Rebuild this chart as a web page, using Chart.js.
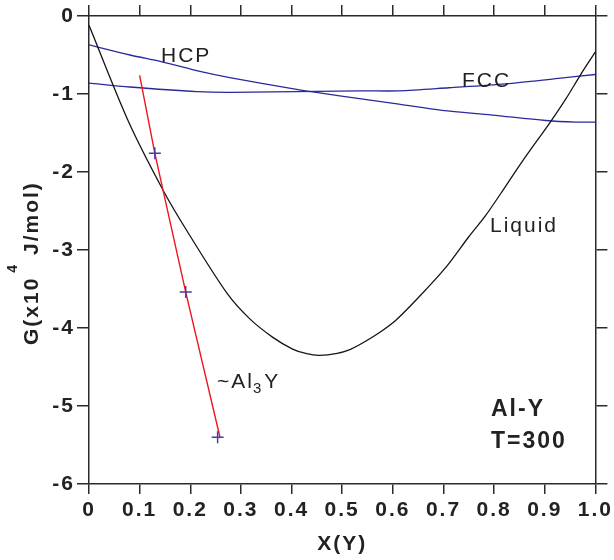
<!DOCTYPE html>
<html>
<head>
<meta charset="utf-8">
<script src="https://cdn.jsdelivr.net/npm/chart.js@4/dist/chart.umd.min.js"></script>
<style>
  html, body { margin: 0; padding: 0; background: #fff; }
  #wrap { width: 614px; height: 560px; }
</style>
</head>
<body>
<div id="wrap"><canvas id="gibbs-chart" width="614" height="560"></canvas></div>
<script>
// values (X = mole fraction Y, G in 10^4 J/mol)
const xTickLabels = ['0', '0.1', '0.2', '0.3', '0.4', '0.5', '0.6', '0.7', '0.8', '0.9', '1.0'];
const yTickLabels = ['0', '-1', '-2', '-3', '-4', '-5', '-6'];

const liquidX = [0, 0.077, 0.146, 0.193, 0.272, 0.317, 0.363, 0.402, 0.43, 0.455, 0.49, 0.514, 0.534, 0.573, 0.606, 0.652, 0.705, 0.75, 0.783, 0.823, 0.856, 0.911, 0.941, 0.97, 1.0];
const liquidG = [-0.12, -1.34, -2.23, -2.75, -3.55, -3.88, -4.12, -4.27, -4.33, -4.35, -4.325, -4.28, -4.215, -4.06, -3.9, -3.6, -3.22, -2.83, -2.56, -2.18, -1.86, -1.36, -1.07, -0.76, -0.46];

const hcpX = [0, 0.081, 0.146, 0.219, 0.278, 0.41, 0.449, 0.534, 0.612, 0.697, 0.796, 0.902, 0.961, 1.0];
const hcpG = [-0.37, -0.5, -0.59, -0.71, -0.79, -0.94, -0.98, -1.06, -1.13, -1.21, -1.27, -1.34, -1.36, -1.36];

const fccX = [0, 0.081, 0.213, 0.278, 0.534, 0.612, 0.711, 0.823, 0.927, 1.0];
const fccG = [-0.86, -0.91, -0.97, -0.98, -0.96, -0.96, -0.92, -0.87, -0.8, -0.75];

const al3yX = [0.1, 0.13, 0.191, 0.259];
const al3yG = [-0.76, -1.76, -3.54, -5.41];

const markX = [0.13, 0.191, 0.254];
const markG = [-1.76, -3.54, -5.4];

function pts(xs, ys) { return xs.map((x, i) => ({ x: x, y: ys[i] })); }

const axisColor = '#2a2a2a';
const FONT = '"Liberation Sans", Arial, sans-serif';

const textPlugin = {
  id: 'texts',
  beforeDraw(chart) {
    chart.ctx.letterSpacing = '2px';
  },
  afterDraw(chart) {
    const ctx = chart.ctx;
    ctx.save();
    ctx.letterSpacing = '2px';
    ctx.fillStyle = '#222';
    ctx.textBaseline = 'alphabetic';
    ctx.textAlign = 'left';

    ctx.font = '21px ' + FONT;
    ctx.fillText('HCP', 161, 62);
    ctx.fillText('FCC', 462, 87);
    ctx.fillText('Liquid', 490, 232);
    ctx.fillText('~Al', 217, 388);
    let w = ctx.measureText('~Al').width;
    ctx.font = '15px ' + FONT;
    ctx.fillText('3', 217 + w - 1, 393);
    let w3 = ctx.measureText('3').width;
    ctx.font = '21px ' + FONT;
    ctx.fillText('Y', 217 + w + w3, 388);

    ctx.font = 'bold 23px ' + FONT;
    ctx.fillText('Al-Y', 491, 416);
    ctx.fillText('T=300', 491, 448);

    // y axis title with superscript
    ctx.translate(33, 266);
    ctx.rotate(-Math.PI / 2);
    ctx.font = 'bold 21px ' + FONT;
    let u = -79;
    ctx.fillText('G(x10', u, 5);
    u += ctx.measureText('G(x10').width;
    ctx.font = 'bold 14px ' + FONT;
    ctx.fillText('4', u + 4, -16);
    u += ctx.measureText('4').width + 4;
    ctx.font = 'bold 21px ' + FONT;
    ctx.fillText(' J/mol)', u, 5);
    ctx.restore();
  }
};

new Chart(document.getElementById('gibbs-chart'), {
  type: 'scatter',
  data: {
    datasets: [
      { data: pts(markX, markG), showLine: false, pointStyle: 'cross', pointRadius: 6,
        borderColor: '#4a3aa8', borderWidth: 1.5 },
      { data: pts(al3yX, al3yG), showLine: true, pointRadius: 0, borderColor: '#f0141e',
        borderWidth: 1.4, tension: 0 },
      { data: pts(liquidX, liquidG), showLine: true, pointRadius: 0, borderColor: '#151515',
        borderWidth: 1.3, tension: 0.3 },
      { data: pts(hcpX, hcpG), showLine: true, pointRadius: 0, borderColor: '#2a2a9c',
        borderWidth: 1.3, tension: 0.3 },
      { data: pts(fccX, fccG), showLine: true, pointRadius: 0, borderColor: '#2a2a9c',
        borderWidth: 1.3, tension: 0.3 }
    ]
  },
  options: {
    responsive: false,
    animation: false,
    layout: { padding: 0 },
    plugins: { legend: { display: false }, tooltip: { enabled: false } },
    scales: {
      x: {
        type: 'linear', position: 'bottom', min: 0, max: 1,
        afterFit(s) { s.height = 76; },
        border: { color: axisColor, width: 1.5 },
        grid: { drawOnChartArea: false, color: axisColor, lineWidth: 1.5, tickLength: 10 },
        ticks: {
          stepSize: 0.1, padding: 4, color: '#222', maxRotation: 0,
          font: { family: FONT, size: 21, weight: 'bold' },
          callback: (v) => xTickLabels[Math.round(v * 10)]
        },
        title: { display: true, text: 'X(Y)', color: '#222', padding: { top: 0, bottom: 3 },
          font: { family: FONT, size: 21, weight: 'bold' } }
      },
      x2: {
        type: 'linear', position: 'top', min: 0, max: 1,
        afterFit(s) { s.height = 16; },
        border: { color: axisColor, width: 1.5 },
        grid: { drawOnChartArea: false, color: axisColor, lineWidth: 1.5, tickLength: 11 },
        ticks: { stepSize: 0.1, display: false }
      },
      y: {
        type: 'linear', position: 'left', min: -6, max: 0,
        afterFit(s) { s.width = 89; },
        border: { color: axisColor, width: 1.5 },
        grid: { drawOnChartArea: false, color: axisColor, lineWidth: 1.5, tickLength: 12 },
        ticks: {
          stepSize: 1, padding: 2, color: '#222',
          font: { family: FONT, size: 21, weight: 'bold' },
          callback: (v) => yTickLabels[Math.round(-v)]
        }
      },
      y2: {
        type: 'linear', position: 'right', min: -6, max: 0,
        afterFit(s) { s.width = 17; },
        border: { color: axisColor, width: 1.5 },
        grid: { drawOnChartArea: false, color: axisColor, lineWidth: 1.5, tickLength: 12 },
        ticks: { stepSize: 1, display: false }
      }
    }
  },
  plugins: [textPlugin]
});
</script>
</body>
</html>
